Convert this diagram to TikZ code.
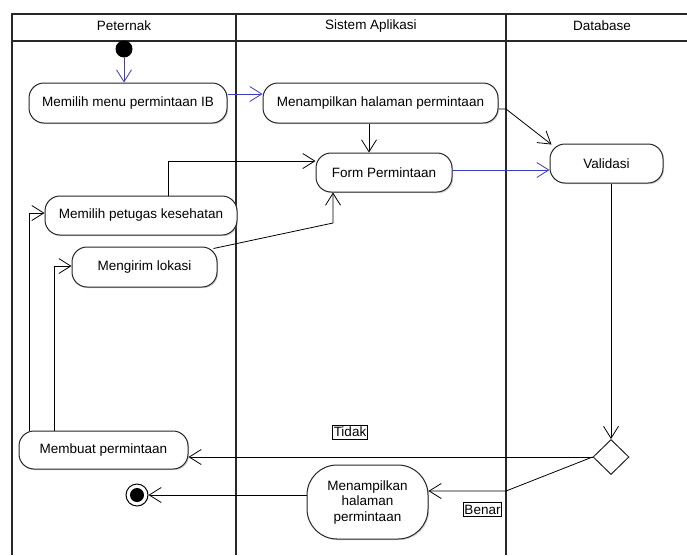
\documentclass[tikz,border=0pt]{standalone}
\usepackage{fontspec}
\setmainfont{Liberation Sans}
\usetikzlibrary{arrows.meta,calc,shapes.geometric,shadows}
\definecolor{blueline}{RGB}{60,60,190}
\definecolor{laneline}{RGB}{40,40,40}
\begin{document}
\begin{tikzpicture}[x=1pt,y=-1pt,
  every node/.style={font=\fontsize{13.5}{15.5}\selectfont},
  act/.style={draw=black!85,line width=1pt,rounded corners=15pt,fill=white,
    inner sep=0pt,align=center,drop shadow={shadow xshift=1.2pt,shadow yshift=-1.2pt,opacity=0.35}},
  arr/.style={draw=black,line width=0.8pt,-{Straight Barb[length=12pt,width=15pt,line width=0.8pt]}},
  barr/.style={arr,draw=blueline,-{Straight Barb[length=12pt,width=15pt,line width=0.8pt,color=blueline]}},
  lane/.style={draw=laneline,line width=1.4pt},
  guard/.style={draw=black,line width=0.7pt,inner xsep=1pt,inner ysep=2pt,font=\fontsize{13.5}{15}\selectfont}]
\useasboundingbox (0,0) rectangle (687,555);
% swimlanes
\draw[lane] (687,14) -- (12,14) -- (12,555);
\draw[lane] (12,41) -- (687,41);
\draw[lane] (236,14) -- (236,555);
\draw[lane] (506,14) -- (506,555);
\node (h1) at (124,26) {Peternak};
\node (h2) at (371,26) {Sistem Aplikasi};
\node (h3) at (602,26) {Database};
% nodes
\node[circle,fill=black,minimum size=17pt,inner sep=0pt] (init) at (124,49) {};
\node[act,minimum width=198pt,minimum height=40pt] (n1) at (128,103) {Memilih menu permintaan IB};
\node[act,minimum width=235pt,minimum height=40pt] (n2) at (380.5,103) {Menampilkan halaman permintaan};
\node[act,minimum width=136pt,minimum height=39pt] (n3) at (384,172.5) {Form Permintaan};
\node[act,minimum width=113pt,minimum height=39pt] (n4) at (606.5,163.5) {Validasi};
\node[act,minimum width=192pt,minimum height=39pt] (n5) at (141,215.5) {Memilih petugas kesehatan};
\node[act,minimum width=145pt,minimum height=40pt] (n6) at (144.5,267) {Mengirim lokasi};
\node[act,minimum width=169pt,minimum height=38pt] (n7) at (103.5,450) {Membuat permintaan};
\node[act,rounded corners=30pt,minimum width=121pt,minimum height=74pt] (n8) at (367.5,502) {Menampilkan\\halaman\\permintaan};
\node[diamond,draw=black!85,line width=1pt,fill=white,minimum width=36pt,minimum height=35pt,inner sep=0pt] (d) at (611,457) {};
\node[circle,draw=black,line width=1pt,fill=white,minimum size=22pt,inner sep=0pt] (final) at (137,495) {};
\fill (final.center) circle (7pt);
\node[guard] (tidak) at (350,432) {Tidak};
\node[guard] (benar) at (482.5,509.5) {Benar};
% connectors
\draw[barr] (init) -- (init |- n1.north);
\draw[barr] (n1.east |- 0,94) -- (n2.west |- 0,94);
\draw[arr] (n2.south -| 369,0) -- (n3.north -| 369,0);
\coordinate (v1) at (506,109);
\coordinate (v2) at ($(n4.north west)+(2,1)$);
\draw[arr] (n2.east |- v1) -- (v1) -- (v2);
\draw[barr] (n3.east |- 0,170) -- (n4.west |- 0,170);
\draw[arr] (n5.north -| 168,0) |- (n3.west |- 0,161);
\coordinate (m1) at ($(n6.north east)+(-4,2)$);
\coordinate (m2) at (333,223);
\draw[arr] (m1) -- (m2) -- (n3.south -| m2);
\draw[arr] (n4.south -| d.north) -- (d.north);
\draw[arr] (d.west) -- (n7.east |- d.west);
\coordinate (b1) at (506,491);
\draw[arr] (d.west) -- (b1) -- (n8.east |- b1);
\draw[arr] (n8.west |- final) -- (final);
\draw[arr] (n7.north -| 29,0) |- (n5.west |- 0,213);
\draw[arr] (n7.north -| 54,0) |- (n6.west |- 0,266);
\end{tikzpicture}
\end{document}
